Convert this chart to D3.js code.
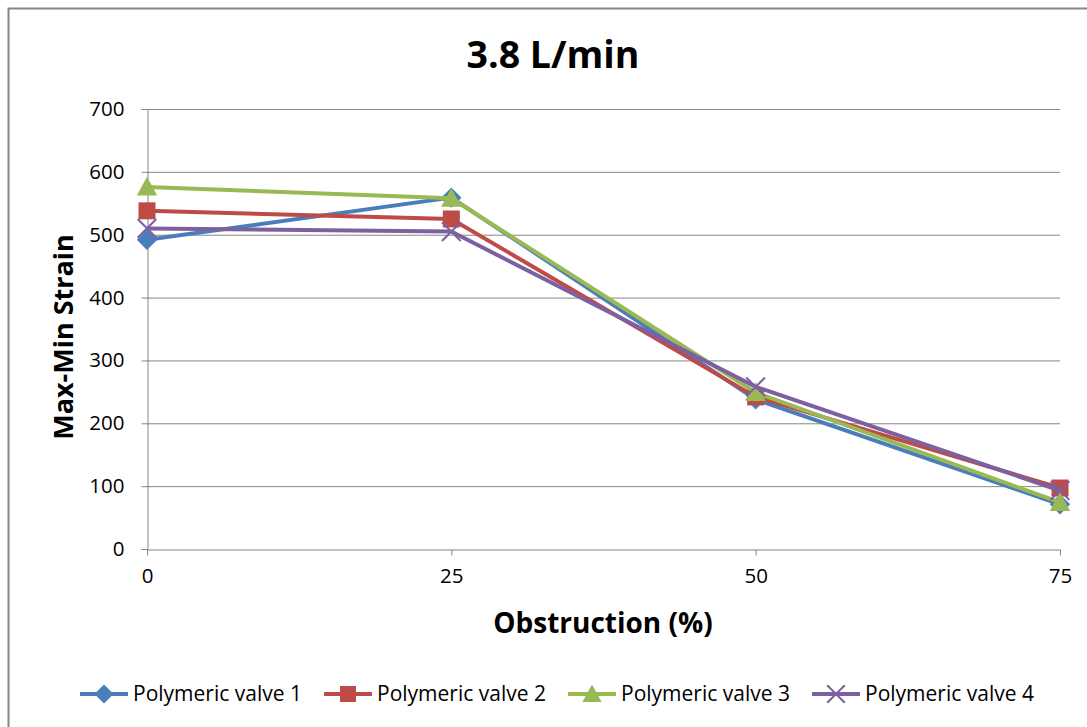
<!DOCTYPE html>
<html>
<head>
<meta charset="utf-8">
<script src="https://cdn.jsdelivr.net/npm/d3@7"></script>
<style>
  html, body { margin: 0; padding: 0; background: #fff; }
  svg text { font-family: "Open Sans", sans-serif; fill: #000; }
</style>
</head>
<body>
<svg id="chart" width="1087" height="727"></svg>
<script>
// Obstruction levels (%) on the category axis
const categories = [0, 25, 50, 75];
const yTicks = [0, 100, 200, 300, 400, 500, 600, 700];

// Max-Min strain per valve at each obstruction level
const valve1 = [492, 559, 238, 71];
const valve2 = [538, 525, 242, 97];
const valve3 = [576, 558, 249, 74];
const valve4 = [510, 505, 258, 93];

const seriesNames = ["Polymeric valve 1", "Polymeric valve 2", "Polymeric valve 3", "Polymeric valve 4"];
const seriesColors = ["#4A7EBB", "#BE4B48", "#98B954", "#7D60A0"];
const seriesMarkers = ["diamond", "square", "triangle", "cross"];
const seriesValues = [valve1, valve2, valve3, valve4];

const svg = d3.select("#chart");

// outer chart frame
svg.append("rect")
  .attr("x", 8.5).attr("y", 8.5)
  .attr("width", 1090).attr("height", 730)
  .attr("fill", "#fff").attr("stroke", "#868686").attr("stroke-width", 2);

const plot = { left: 147, right: 1060, top: 109, bottom: 549 };

const x = d3.scalePoint().domain(categories).range([plot.left, plot.right]);
const y = d3.scaleLinear().domain([0, 700]).range([plot.bottom, plot.top]);

// horizontal gridlines
svg.append("g")
  .selectAll("line")
  .data(yTicks.filter(d => d > 0))
  .join("line")
  .attr("x1", plot.left).attr("x2", plot.right)
  .attr("y1", d => y(d) + 0.5).attr("y2", d => y(d) + 0.5)
  .attr("stroke", "#868686").attr("stroke-width", 1);

// y axis
const yAxis = svg.append("g")
  .attr("transform", `translate(${plot.left + 0.5},0)`)
  .call(d3.axisLeft(y).tickValues(yTicks).tickSize(6).tickPadding(17));
yAxis.selectAll("path, line").attr("stroke", "#868686");
yAxis.selectAll("text").attr("font-size", 20.5).style("font-family", "'Open Sans', sans-serif").attr("fill", "#000");

// x axis
const xAxis = svg.append("g")
  .attr("transform", `translate(0,${plot.bottom + 0.5})`)
  .call(d3.axisBottom(x).tickSize(6).tickPadding(13));
xAxis.select("path").attr("d", `M${plot.left},0.5H${plot.right}`);
xAxis.selectAll("path, line").attr("stroke", "#868686");
xAxis.selectAll("text").attr("font-size", 20.5).style("font-family", "'Open Sans', sans-serif").attr("fill", "#000");

// titles
svg.append("text")
  .attr("x", 553).attr("y", 68)
  .attr("text-anchor", "middle")
  .attr("font-size", 37.5).attr("font-weight", "bold")
  .text("3.8 L/min");

svg.append("text")
  .attr("x", 603).attr("y", 633)
  .attr("text-anchor", "middle")
  .attr("font-size", 28).attr("font-weight", "bold")
  .text("Obstruction (%)");

svg.append("text")
  .attr("transform", `translate(73,${(plot.top + plot.bottom) / 2 + 8}) rotate(-90)`)
  .attr("text-anchor", "middle")
  .attr("font-size", 27).attr("font-weight", "bold")
  .text("Max-Min Strain");

// marker drawing
function drawMarker(g, type, color, cx, cy, s) {
  if (type === "diamond") {
    g.append("path")
      .attr("d", `M${cx},${cy - s * 0.6}L${cx + s * 0.6},${cy}L${cx},${cy + s * 0.6}L${cx - s * 0.6},${cy}Z`)
      .attr("fill", color);
  } else if (type === "square") {
    g.append("rect")
      .attr("x", cx - s / 2).attr("y", cy - s / 2)
      .attr("width", s).attr("height", s)
      .attr("fill", color);
  } else if (type === "triangle") {
    g.append("path")
      .attr("d", `M${cx},${cy - s * 0.6}L${cx + s * 0.6},${cy + s * 0.5}L${cx - s * 0.6},${cy + s * 0.5}Z`)
      .attr("fill", color);
  } else if (type === "cross") {
    const h = s * 0.55;
    g.append("path")
      .attr("d", `M${cx - h},${cy - h}L${cx + h},${cy + h}M${cx - h},${cy + h}L${cx + h},${cy - h}`)
      .attr("stroke", color).attr("stroke-width", 2).attr("fill", "none");
  }
}

const line = d3.line()
  .x((d, i) => x(categories[i]))
  .y(d => y(d));

seriesValues.forEach((vals, si) => {
  const g = svg.append("g");
  g.append("path")
    .datum(vals)
    .attr("d", line)
    .attr("fill", "none")
    .attr("stroke", seriesColors[si])
    .attr("stroke-width", 4)
    .attr("stroke-linejoin", "round");
  vals.forEach((v, i) => {
    drawMarker(g, seriesMarkers[si], seriesColors[si], x(categories[i]), y(v), 17);
  });
});

// legend
const legendX = [80, 324, 568, 812];
const legendY = 694;
seriesNames.forEach((name, si) => {
  const g = svg.append("g");
  const lx = legendX[si];
  g.append("line")
    .attr("x1", lx).attr("x2", lx + 48)
    .attr("y1", legendY).attr("y2", legendY)
    .attr("stroke", seriesColors[si]).attr("stroke-width", 4);
  drawMarker(g, seriesMarkers[si], seriesColors[si], lx + 24, legendY, 16);
  g.append("text")
    .attr("x", lx + 53).attr("y", legendY + 7)
    .attr("font-size", 21)
    .text(name);
});
</script>
</body>
</html>
